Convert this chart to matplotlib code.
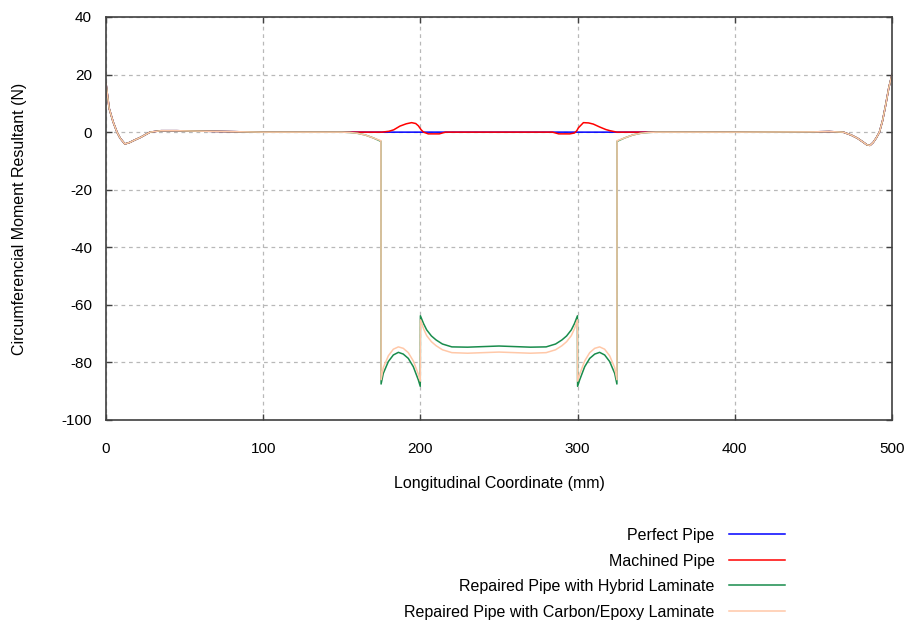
import matplotlib
matplotlib.use("Agg")
import matplotlib.pyplot as plt
from matplotlib.lines import Line2D

plt.rcParams['font.family'] = ['Liberation Sans', 'DejaVu Sans']
plt.rcParams['axes.unicode_minus'] = False

# ---------------- data ----------------
perfect_x = [0, 2, 4.5, 7, 9, 12, 15, 18, 22, 28, 35, 45, 54, 100, 200, 300, 400,
             450, 460, 469, 474, 478, 482, 484, 486, 488, 490, 492, 494, 496, 498, 500]
perfect_y = [17, 8.3, 3.6, 0, -2.1, -4.1, -3.6, -2.8, -1.8, 0, 0.5, 0.5, 0.4, 0, 0, 0, 0,
             0.1, 0.2, 0, -1.0, -2.1, -3.6, -4.4, -4.6, -3.6, -2.0, 0, 4, 9.5, 15.5, 20]

machined_x = [0, 2, 4.5, 7, 9, 12, 15, 18, 22, 28, 35, 45, 54, 100, 170, 175.5, 180, 183,
              187, 191, 194.4, 197, 198.7, 200.5, 202, 205, 212, 216, 284, 288, 295, 298,
              299.5, 300.5, 303.7, 307, 310, 314, 318, 320.6, 325, 400,
              450, 460, 469, 474, 478, 482, 484, 486, 488, 490, 492, 494, 496, 498, 500]
machined_y = [17, 8.3, 3.6, 0, -2.1, -4.1, -3.6, -2.8, -1.8, 0, 0.5, 0.5, 0.4, 0, 0, 0, 0.3, 0.8,
              2.1, 2.9, 3.3, 3.0, 2.2, 0.8, 0, -0.6, -0.6, 0, 0, -0.6, -0.6, -0.3,
              0.5, 1.5, 3.3, 3.2, 2.8, 1.8, 0.9, 0.5, 0, 0,
              0.1, 0.2, 0, -1.0, -2.1, -3.6, -4.4, -4.6, -3.6, -2.0, 0, 4, 9.5, 15.5, 20]

hybrid_x = [0, 2, 4.5, 7, 9, 12, 15, 18, 22, 28, 35, 45, 54, 100, 150, 155, 160, 165, 170, 174.9,
            175, 176.4, 179.6, 182.8, 186, 189.1, 192.3, 195.5, 198.7, 199.9,
            200, 202, 204, 207, 210, 214, 220, 230, 240, 250, 260, 270, 280, 286, 290, 293,
            296, 298, 299.9,
            300, 301.3, 304.5, 307.7, 310.9, 314, 317.2, 320.4, 323.6, 325,
            325.1, 330, 335, 340, 345, 350, 400,
            450, 460, 469, 474, 478, 482, 484, 486, 488, 490, 492, 494, 496, 498, 500]
hybrid_y = [17, 8.3, 3.6, 0, -2.1, -4.1, -3.6, -2.8, -1.8, 0, 0.5, 0.5, 0.4, 0, 0, -0.1, -0.4, -1.0, -2.0, -3.2,
            -87.5, -83.8, -79.7, -77.4, -76.5, -77.1, -78.6, -81.5, -86.1, -88.3,
            -63.8, -66.5, -68.7, -70.8, -72.2, -73.6, -74.6, -74.7, -74.5, -74.3, -74.5, -74.7, -74.6, -73.6, -72.2, -70.8,
            -68.7, -66.5, -63.8,
            -88.3, -86.1, -81.5, -78.6, -77.1, -76.5, -77.4, -79.7, -83.8, -87.5,
            -3.2, -2.0, -1.0, -0.4, -0.1, 0, 0,
            0.1, 0.2, 0, -1.0, -2.1, -3.6, -4.4, -4.6, -3.6, -2.0, 0, 4, 9.5, 15.5, 20]

carbon_x = [0, 2, 4.5, 7, 9, 12, 15, 18, 22, 28, 35, 45, 54, 100, 150, 155, 160, 165, 170, 174.9,
            175, 176.4, 179.6, 182.8, 186, 189.1, 192.3, 195.5, 198.7, 199.9,
            200, 202, 204, 207, 210, 214, 220, 230, 240, 250, 260, 270, 280, 286, 290, 293,
            296, 298, 299.9,
            300, 301.3, 304.5, 307.7, 310.9, 314, 317.2, 320.4, 323.6, 325,
            325.1, 330, 335, 340, 345, 350, 400,
            450, 460, 469, 474, 478, 482, 484, 486, 488, 490, 492, 494, 496, 498, 500]
carbon_y = [17, 8.3, 3.6, 0, -2.1, -4.1, -3.6, -2.8, -1.8, 0, 0.5, 0.5, 0.4, 0, 0, -0.1, -0.4, -1.0, -2.0, -3.0,
            -86.0, -81.8, -77.7, -75.4, -74.6, -75.1, -76.6, -79.5, -84.1, -86.5,
            -65.2, -68.3, -70.7, -72.8, -74.2, -75.6, -76.6, -76.8, -76.6, -76.4, -76.6, -76.8, -76.6, -75.6, -74.2, -72.8,
            -70.7, -68.3, -65.2,
            -86.5, -84.1, -79.5, -76.6, -75.1, -74.6, -75.4, -77.7, -81.8, -86.0,
            -3.0, -2.0, -1.0, -0.4, -0.1, 0, 0,
            0.1, 0.2, 0, -1.0, -2.1, -3.6, -4.4, -4.6, -3.6, -2.0, 0, 4, 9.5, 15.5, 20]

labels = ["Perfect Pipe", "Machined Pipe", "Repaired Pipe with Hybrid Laminate",
          "Repaired Pipe with Carbon/Epoxy Laminate"]
colors = ["#0000ff", "#ff0000", "#198c4c", "#ffc8a8"]

x_ticks = [0, 100, 200, 300, 400, 500]
y_ticks = [40, 20, 0, -20, -40, -60, -80, -100]

# ---------------- figure ----------------
fig = plt.figure(figsize=(9.09, 6.22), dpi=100)
ax = fig.add_axes([106 / 909, 1 - 420 / 622, (892 - 106) / 909, (420 - 17) / 622])

series = [(perfect_x, perfect_y), (machined_x, machined_y),
          (hybrid_x, hybrid_y), (carbon_x, carbon_y)]
handles = []
for (xs, ys), c, lab in zip(series, colors, labels):
    ax.plot(xs, ys, color=c, lw=1.1)
    handles.append(Line2D([], [], color=c, lw=1.1, label=lab))

ax.set_xlim(0, 500)
ax.set_ylim(-100, 40)
ax.set_xticks(x_ticks)
ax.set_yticks(y_ticks)
ax.grid(True, color="#b8b8b8", linestyle=(0, (3, 3)), lw=0.9)
for s in ax.spines.values():
    s.set_color("#404040")
    s.set_linewidth(1.2)
ax.tick_params(direction="in", length=4, width=1, color="#404040", labelsize=11,
               top=True, right=True)
ax.tick_params(axis="x", pad=15.5)
ax.tick_params(axis="y", pad=10)

ax.set_xlabel("Longitudinal Coordinate (mm)", fontsize=11.5)
ax.set_ylabel("Circumferencial Moment Resultant (N)", fontsize=11.5)
ax.xaxis.set_label_coords(0.5, -0.14)
ax.yaxis.set_label_coords(-0.100, 0.5)

fig.legend(handles=handles, loc="upper right", bbox_to_anchor=(785 / 909, 1 - 528 / 622),
           markerfirst=False, frameon=False, fontsize=11.5, handlelength=3.5,
           handletextpad=0.9, labelspacing=0.66, borderaxespad=0, borderpad=0)

fig.savefig("out.png", dpi=100)
